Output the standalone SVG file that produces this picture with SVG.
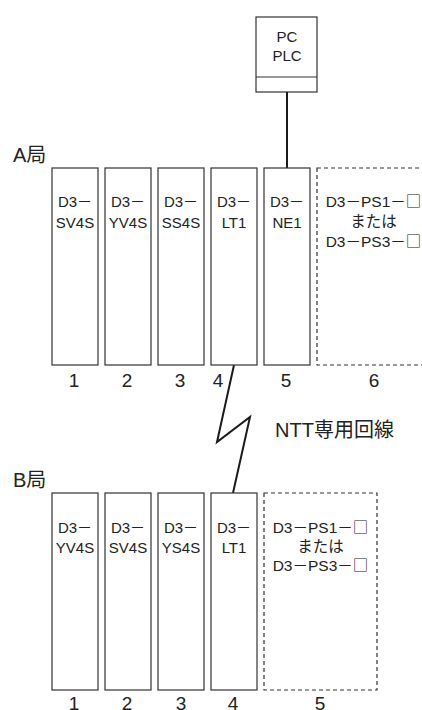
<svg xmlns="http://www.w3.org/2000/svg" width="422" height="710" viewBox="0 0 422 710">
<style>
.bg{fill:#fff}
.mod{fill:#fff;stroke:#333;stroke-width:1.2}
.dash{fill:#fff;stroke:#333;stroke-width:1.2;stroke-dasharray:4 3}
.t{font-family:"Liberation Sans","Noto Sans CJK JP",sans-serif;fill:#222;text-anchor:middle}
.m{font-size:15px}
.p{font-size:15.5px}
.n{font-size:19px}
.sq{font-family:"Noto Sans CJK JP",sans-serif;fill:#222}
.lbl{font-family:"Liberation Sans","Noto Sans CJK JP",sans-serif;fill:#222;font-size:20px}
.wire{fill:none;stroke:#1a1a1a;stroke-width:2}
</style>
<rect class="bg" x="0" y="0" width="422" height="710"/>

<g id="pc-plc">
<rect class="mod" x="256" y="17" width="61" height="75"/>
<line x1="256" y1="77" x2="317" y2="77" stroke="#333" stroke-width="1.2"/>
<text class="t m" x="287" y="42">PC</text>
<text class="t m" x="287" y="61">PLC</text>
</g>

<g id="connectors">
<line class="wire" x1="287" y1="92" x2="287" y2="168"/>
<polyline class="wire" points="234,365 217,442 250,417 233,493"/>
</g>

<text class="lbl" x="13" y="162">A局</text>
<text class="lbl" x="13" y="487">B局</text>
<text class="lbl" x="275" y="437" font-size="21">NTT専用回線</text>

<g id="a1"><rect class="mod" x="52" y="168" width="46" height="197"/><text class="t m" x="75" y="207">D3－</text><text class="t m" x="75" y="228">SV4S</text><text class="t n" x="74" y="387">1</text></g>
<g id="a2"><rect class="mod" x="105" y="168" width="46" height="197"/><text class="t m" x="128" y="207">D3－</text><text class="t m" x="128" y="228">YV4S</text><text class="t n" x="127" y="387">2</text></g>
<g id="a3"><rect class="mod" x="158" y="168" width="46" height="197"/><text class="t m" x="181" y="207">D3－</text><text class="t m" x="181" y="228">SS4S</text><text class="t n" x="180" y="387">3</text></g>
<g id="a4"><rect class="mod" x="211" y="168" width="46" height="197"/><text class="t m" x="234" y="207">D3－</text><text class="t m" x="234" y="228">LT1</text><text class="t n" x="218" y="387">4</text></g>
<g id="a5"><rect class="mod" x="264" y="168" width="46" height="197"/><text class="t m" x="287" y="207">D3－</text><text class="t m" x="287" y="228">NE1</text><text class="t n" x="286" y="387">5</text></g>
<g id="a6"><rect class="dash" x="317" y="168" width="113" height="197"/><text class="t p" x="373.5" y="207">D3－PS1－<tspan class="sq">□</tspan></text><text class="t p" x="373.5" y="227">または</text><text class="t p" x="373.5" y="247">D3－PS3－<tspan class="sq">□</tspan></text><text class="t n" x="374" y="387">6</text></g>

<g id="b1"><rect class="mod" x="52" y="493" width="46" height="197"/><text class="t m" x="75" y="533">D3－</text><text class="t m" x="75" y="553">YV4S</text><text class="t n" x="74" y="710">1</text></g>
<g id="b2"><rect class="mod" x="105" y="493" width="46" height="197"/><text class="t m" x="128" y="533">D3－</text><text class="t m" x="128" y="553">SV4S</text><text class="t n" x="127" y="710">2</text></g>
<g id="b3"><rect class="mod" x="158" y="493" width="46" height="197"/><text class="t m" x="181" y="533">D3－</text><text class="t m" x="181" y="553">YS4S</text><text class="t n" x="181" y="710">3</text></g>
<g id="b4"><rect class="mod" x="211" y="493" width="46" height="197"/><text class="t m" x="234" y="533">D3－</text><text class="t m" x="234" y="553">LT1</text><text class="t n" x="233" y="710">4</text></g>
<g id="b5"><rect class="dash" x="264" y="493" width="113" height="197"/><text class="t p" x="320.5" y="533">D3－PS1－<tspan class="sq">□</tspan></text><text class="t p" x="320.5" y="552">または</text><text class="t p" x="320.5" y="571">D3－PS3－<tspan class="sq">□</tspan></text><text class="t n" x="320" y="710">5</text></g>
</svg>
